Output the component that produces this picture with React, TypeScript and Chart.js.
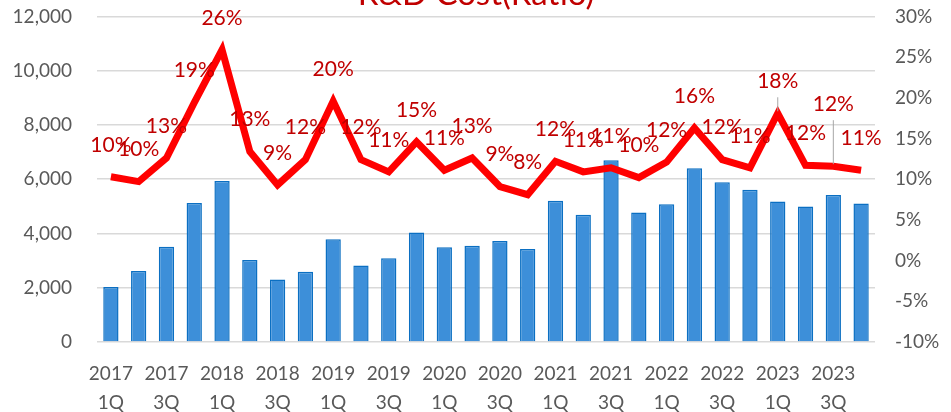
import React, { useEffect, useRef } from "react";
import { Chart, registerables } from "chart.js";

Chart.register(...registerables);

const years = ["2017", "2018", "2019", "2020", "2021", "2022", "2023"];
const quarters = ["1Q", "2Q", "3Q", "4Q"];
const rdCost = [
  2030, 2620, 3510, 5120, 5930, 3020, 2300, 2590,
  3790, 2820, 3090, 4040, 3490, 3550, 3720, 3430,
  5210, 4690, 6700, 4770, 5080, 6400, 5890, 5610,
  5180, 4990, 5420, 5100,
];
const rdRatio = [
  10.3, 9.7, 12.6, 19.4, 25.9, 13.4, 9.3, 12.4,
  19.6, 12.4, 10.9, 14.6, 11.1, 12.6, 9.1, 8.1,
  12.2, 10.9, 11.4, 10.2, 12.1, 16.3, 12.4, 11.4,
  18.1, 11.7, 11.6, 11.1,
];
const leftTicks = [0, 2000, 4000, 6000, 8000, 10000, 12000];
const rightTicks = [-10, -5, 0, 5, 10, 15, 20, 25, 30];
const titleText = "R&D Cost(Ratio)";

const categories: string[][] = [];
years.forEach((y) => quarters.forEach((q) => categories.push([y, q])));

const FONT = "Lato, 'Open Sans', sans-serif";
const SHIFT = 20;

const labelPlugin = {
  id: "ratioLabels",
  afterDatasetsDraw(chart: any) {
    const ctx = chart.ctx;
    const meta = chart.getDatasetMeta(1);
    ctx.save();
    ctx.font = `21px ${FONT}`;
    ctx.fillStyle = "#c00000";
    ctx.textAlign = "center";
    ctx.textBaseline = "middle";
    meta.data.forEach((pt: any, i: number) => {
      const lift = i === 26 ? 62 : 32;
      const ly = pt.y - lift;
      if (i === 24 || i === 26) {
        ctx.save();
        ctx.strokeStyle = "#a6a6a6";
        ctx.lineWidth = 1;
        ctx.beginPath();
        ctx.moveTo(pt.x, ly + 16);
        ctx.lineTo(pt.x, pt.y - 2);
        ctx.stroke();
        ctx.restore();
      }
      ctx.fillText(`${Math.round(rdRatio[i])}%`, pt.x, ly);
    });
    ctx.restore();
  },
  afterDraw(chart: any) {
    const ctx = chart.ctx;
    ctx.save();
    ctx.font = `33px ${FONT}`;
    ctx.fillStyle = "#c00000";
    ctx.textAlign = "center";
    ctx.textBaseline = "alphabetic";
    ctx.fillText(titleText, 476, 5 + SHIFT);
    ctx.restore();
  },
};

export default function App() {
  const ref = useRef<HTMLCanvasElement | null>(null);
  useEffect(() => {
    document.body.style.margin = "0";
    if (!ref.current) return;
    const chart = new Chart(ref.current, {
      data: {
        labels: categories,
        datasets: [
          {
            type: "bar",
            label: "R&D Cost",
            data: rdCost,
            yAxisID: "y",
            backgroundColor: "#3d8fd9",
            borderColor: "#0b6fc2",
            borderWidth: 1.5,
            categoryPercentage: 1,
            barPercentage: 0.55,
            order: 2,
          },
          {
            type: "line",
            label: "Ratio",
            data: rdRatio,
            yAxisID: "y1",
            borderColor: "#ff0000",
            borderWidth: 7,
            pointRadius: 0,
            tension: 0,
            borderJoinStyle: "miter",
            order: 1,
          },
        ],
      } as any,
      options: {
        animation: false,
        responsive: false,
        maintainAspectRatio: false,
        layout: { padding: { top: 17, left: 0, right: 0, bottom: 0 } },
        plugins: {
          legend: { display: false },
          tooltip: { enabled: false },
          title: { display: false },
        },
        scales: {
          x: {
            grid: { display: false, drawTicks: false },
            border: { display: false },
            ticks: {
              autoSkip: false,
              maxRotation: 0,
              minRotation: 0,
              padding: 17,
              color: "#595959",
              font: { family: FONT, size: 19, lineHeight: 1.55 },
              callback: (_v: any, i: number) => (i % 2 === 0 ? categories[i] : ""),
            },
            afterFit: (s: any) => {
              s.height = 70;
            },
          },
          y: {
            position: "left",
            min: 0,
            max: 12000,
            afterBuildTicks: (s: any) => {
              s.ticks = leftTicks.map((v) => ({ value: v }));
            },
            grid: { color: "#d9d9d9", lineWidth: 1.5, drawTicks: false },
            border: { display: false },
            ticks: {
              padding: 25,
              color: "#595959",
              font: { family: FONT, size: 19 },
              callback: (v: any) => Number(v).toLocaleString("en-US"),
            },
            afterFit: (s: any) => {
              s.width = 97;
            },
          },
          y1: {
            position: "right",
            min: -10,
            max: 30,
            afterBuildTicks: (s: any) => {
              s.ticks = rightTicks.map((v) => ({ value: v }));
            },
            grid: { display: false, drawTicks: false },
            border: { display: false },
            ticks: {
              padding: 20,
              color: "#595959",
              font: { family: FONT, size: 19 },
              callback: (v: any) => `${v}%`,
            },
            afterFit: (s: any) => {
              s.width = 76;
            },
          },
        },
      } as any,
      plugins: [labelPlugin],
    });
    return () => chart.destroy();
  }, []);
  return (
    <div style={{ width: 951, height: 412, position: "relative", overflow: "hidden" }}>
      <canvas
        ref={ref}
        width={951}
        height={412 + SHIFT}
        style={{ width: 951, height: 412 + SHIFT, display: "block", position: "absolute", left: 0, top: -SHIFT }}
      />
    </div>
  );
}
